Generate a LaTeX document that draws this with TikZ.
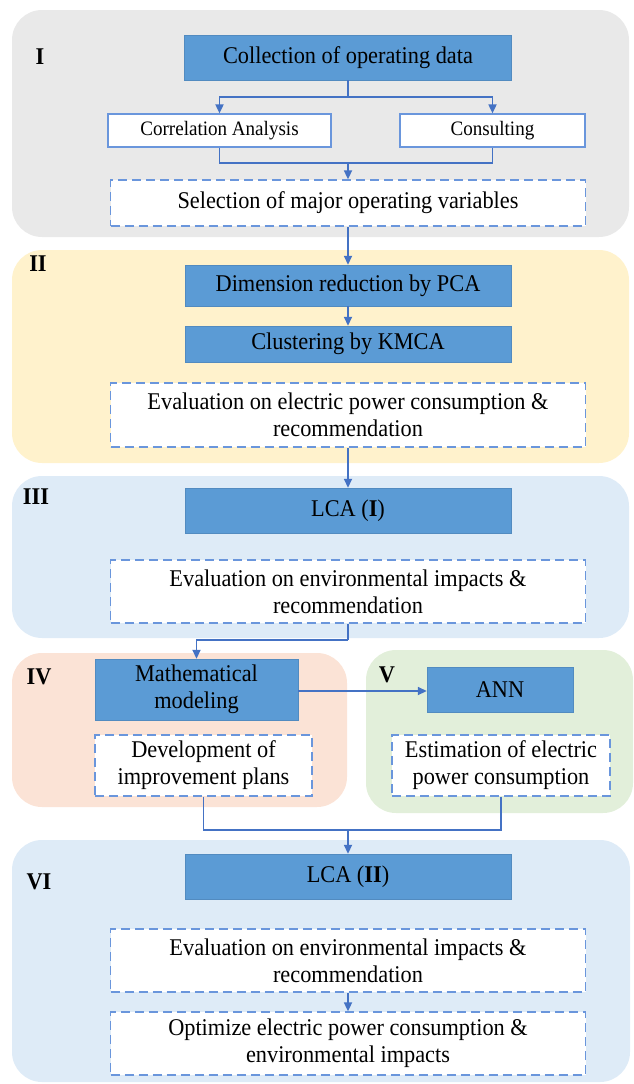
\documentclass[tikz,border=0pt]{standalone}
\usepackage{fontspec}
\setmainfont[FakeStretch=0.93]{Liberation Serif}
\usetikzlibrary{arrows.meta}
\definecolor{boxblue}{HTML}{5B9BD5}
\definecolor{lineblue}{HTML}{4472C4}
\definecolor{dashblue}{HTML}{6A96DC}
\definecolor{pgray}{HTML}{E9E9E9}
\definecolor{pyellow}{HTML}{FFF2CC}
\definecolor{pblue}{HTML}{DEEBF7}
\definecolor{psalmon}{HTML}{FBE3D6}
\definecolor{pgreen}{HTML}{E2EFDA}
\begin{document}
\begin{tikzpicture}[x=1pt,y=-1pt,
  panel/.style={rounded corners=30pt, draw=none},
  solidbox/.style={fill=boxblue, draw=boxblue!90!black, line width=0.4pt, align=center, inner sep=0pt,
    font=\fontsize{24}{27}\selectfont},
  plainbox/.style={fill=white, draw=dashblue, line width=1.2pt, align=center, inner sep=0pt,
    font=\fontsize{20.5}{24}\selectfont},
  dashbox/.style={fill=white, draw=dashblue, line width=1.3pt, dash pattern=on 9pt off 5pt, align=center, inner sep=0pt,
    font=\fontsize{24}{27}\selectfont},
  lbl/.style={font=\fontsize{24}{27}\selectfont\bfseries, inner sep=0pt},
  conn/.style={draw=lineblue, line width=1.7pt},
  arr/.style={conn, -{Triangle[length=9pt,width=8pt]}}
]
\useasboundingbox (0,0) rectangle (633,1084);
% panels
\fill[pgray, panel] (12,10) rectangle (629,237);
\fill[pyellow, panel] (12,250) rectangle (629,463);
\fill[pblue, panel] (12,476) rectangle (629,638);
\fill[psalmon, panel] (12,653) rectangle (347,807);
\fill[pgreen, panel] (366,650) rectangle (633,813);
\fill[pblue, panel] (12,840) rectangle (630,1082);
% labels
\node[lbl] (l1) at (40,57) {I};
\node[lbl] (l2) at (38,264) {II};
\node[lbl] (l3) at (36,497) {III};
\node[lbl] (l4) at (39,677) {IV};
\node[lbl] (l5) at (387,675) {V};
\node[lbl] (l6) at (39,882) {VI};
% nodes
\node[solidbox, minimum width=327pt, minimum height=45pt] (coll) at (348,57.5) {Collection of operating data};
\node[plainbox, minimum width=223pt, minimum height=33pt] (corr) at (219.5,130.5) {Correlation Analysis};
\node[plainbox, minimum width=185pt, minimum height=33pt] (cons) at (492.5,130.5) {Consulting};
\node[dashbox, minimum width=475pt, minimum height=46pt] (sel) at (348,203) {Selection of major operating variables};
\node[solidbox, minimum width=326pt, minimum height=41pt] (dim) at (348,285.5) {Dimension reduction by PCA};
\node[solidbox, minimum width=326pt, minimum height=36pt] (clus) at (348,344) {Clustering by KMCA};
\node[dashbox, minimum width=475pt, minimum height=64pt] (evale) at (348,415) {Evaluation on electric power consumption \&\\recommendation};
\node[solidbox, minimum width=326pt, minimum height=45pt] (lcaa) at (348,510.5) {LCA (\textbf{I})};
\node[dashbox, minimum width=475pt, minimum height=63pt] (enva) at (348,591.5) {Evaluation on environmental impacts \&\\recommendation};
\node[solidbox, minimum width=203pt, minimum height=61pt] (math) at (196.5,689.5) {Mathematical\\modeling};
\node[solidbox, minimum width=146pt, minimum height=45pt] (ann) at (500,689.5) {ANN};
\node[dashbox, minimum width=217pt, minimum height=61pt] (dev) at (203.5,765.5) {Development of\\improvement plans};
\node[dashbox, minimum width=218pt, minimum height=61pt] (est) at (501,765.5) {Estimation of electric\\power consumption};
\node[solidbox, minimum width=326pt, minimum height=45pt] (lcab) at (348,876.5) {LCA (\textbf{II})};
\node[dashbox, minimum width=475pt, minimum height=63pt] (envb) at (348,960.5) {Evaluation on environmental impacts \&\\recommendation};
\node[dashbox, minimum width=475pt, minimum height=63pt] (opt) at (348,1043.5) {Optimize electric power consumption \&\\environmental impacts};
% connectors
\coordinate (j1) at (348,97);
\draw[conn] (coll.south) -- (j1);
\draw[arr] (j1) -| (corr.north);
\draw[arr] (j1) -| (cons.north);
\coordinate (j2) at (348,163);
\draw[conn] (corr.south) |- (j2);
\draw[conn] (cons.south) |- (j2);
\draw[arr] (j2) -- (sel.north);
\draw[arr] (sel.south) -- (dim.north);
\draw[arr] (dim.south) -- (clus.north);
\draw[arr] (evale.south) -- (lcaa.north);
\coordinate (j3) at (348,640);
\draw[conn] (enva.south) -- (j3);
\draw[arr] (j3) -| (math.north);
\draw[arr] ([yshift=-1.5pt]math.east) -- ([yshift=-1.5pt]ann.west);
\coordinate (j4) at (348,830);
\draw[conn] (dev.south) |- (j4);
\draw[conn] (est.south) |- (j4);
\draw[arr] (j4) -- (lcab.north);
\draw[arr] (envb.south) -- (opt.north);
\end{tikzpicture}
\end{document}
